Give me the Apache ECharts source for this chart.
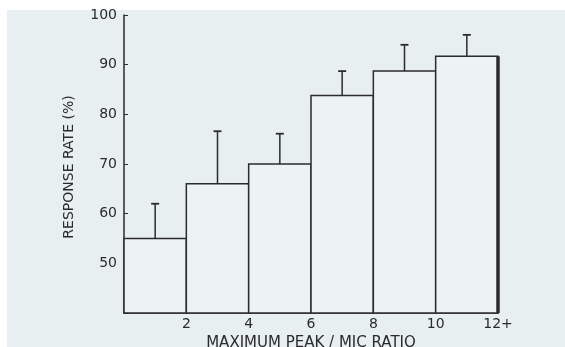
<!DOCTYPE html>
<html>
<head>
<meta charset="utf-8">
<script src="https://cdn.jsdelivr.net/npm/echarts@6/dist/echarts.min.js"></script>
<style>
  html, body { margin: 0; padding: 0; background: #fff; }
  #chart { width: 565px; height: 347px; }
</style>
</head>
<body>
<div id="chart"></div>
<script>
// bin edges of peak/MIC ratio, and response rate per bin
const binStart = [0, 2, 4, 6, 8, 10];
const binEnd = [2, 4, 6, 8, 10, 12];
const rates = [55, 66, 70, 83.8, 88.7, 91.7];
const upperErr = [62, 76.6, 76.1, 88.7, 94, 96];
const xTickLabels = { 2: "2", 4: "4", 6: "6", 8: "8", 10: "10", 12: "12+" };

const ink = "#2b2b2b";
const font = "DejaVu Sans";

const chart = echarts.init(document.getElementById("chart"));

const barData = binStart.map((s, i) => [s, binEnd[i], rates[i]]);
const errData = binStart.map((s, i) => [(s + binEnd[i]) / 2, rates[i], upperErr[i]]);

const option = {
  animation: false,
  backgroundColor: "#fff",
  graphic: [
    {
      type: "rect",
      z: -10,
      shape: { x: 7, y: 10, width: 558, height: 337 },
      style: { fill: "#e7eff0" },
    },
    {
      type: "text",
      x: 69,
      y: 167,
      rotation: Math.PI / 2,
      style: {
        text: "RESPONSE RATE (%)",
        font: "14px " + font,
        fill: ink,
        align: "center",
        verticalAlign: "middle",
      },
    },
  ],
  grid: {
    left: 124,
    right: 67,
    top: 15,
    bottom: 34,
    containLabel: false,
    outerBoundsMode: "none",
  },
  xAxis: {
    type: "value",
    min: 0,
    max: 12,
    interval: 2,
    name: "MAXIMUM PEAK / MIC RATIO",
    nameLocation: "middle",
    nameGap: 21,
    nameTextStyle: { color: ink, fontFamily: font, fontSize: 15 },
    splitLine: { show: false },
    axisLine: { lineStyle: { color: ink, width: 1.5 } },
    axisTick: { show: false },
    axisLabel: {
      color: ink,
      fontFamily: font,
      fontSize: 14,
      margin: 4,
      formatter: (v) => xTickLabels[v] || "",
    },
  },
  yAxis: {
    type: "value",
    min: 40,
    max: 100,
    interval: 10,
    splitLine: { show: false },
    axisLine: { show: true, lineStyle: { color: ink, width: 1.5 } },
    axisTick: { show: true, inside: true, length: 4, lineStyle: { color: ink } },
    axisLabel: {
      color: ink,
      fontFamily: font,
      fontSize: 14,
      margin: 7,
      formatter: (v) => (v === 40 ? "" : String(v)),
    },
  },
  series: [
    {
      type: "custom",
      data: barData,
      renderItem: (params, api) => {
        const p0 = api.coord([api.value(0), api.value(2)]);
        const p1 = api.coord([api.value(1), 40]);
        return {
          type: "rect",
          shape: { x: p0[0], y: p0[1], width: p1[0] - p0[0], height: p1[1] - p0[1] },
          style: { fill: "#edf3f3", stroke: ink, lineWidth: 1.5 },
        };
      },
    },
    {
      // heavier right edge of the last bin
      type: "custom",
      data: barData.slice(-1),
      z: 3,
      renderItem: (params, api) => {
        const top = api.coord([api.value(1), api.value(2)]);
        const bot = api.coord([api.value(1), 40]);
        return {
          type: "line",
          shape: { x1: top[0], y1: top[1], x2: bot[0], y2: bot[1] },
          style: { stroke: ink, lineWidth: 3.5 },
        };
      },
    },
    {
      type: "custom",
      data: errData,
      z: 4,
      renderItem: (params, api) => {
        const lo = api.coord([api.value(0), api.value(1)]);
        const hi = api.coord([api.value(0), api.value(2)]);
        return {
          type: "group",
          children: [
            {
              type: "line",
              shape: { x1: lo[0], y1: lo[1], x2: hi[0], y2: hi[1] },
              style: { stroke: ink, lineWidth: 1.5 },
            },
            {
              type: "line",
              shape: { x1: hi[0] - 4, y1: hi[1], x2: hi[0] + 4, y2: hi[1] },
              style: { stroke: ink, lineWidth: 1.8 },
            },
          ],
        };
      },
    },
  ],
};

chart.setOption(option);
</script>
</body>
</html>
